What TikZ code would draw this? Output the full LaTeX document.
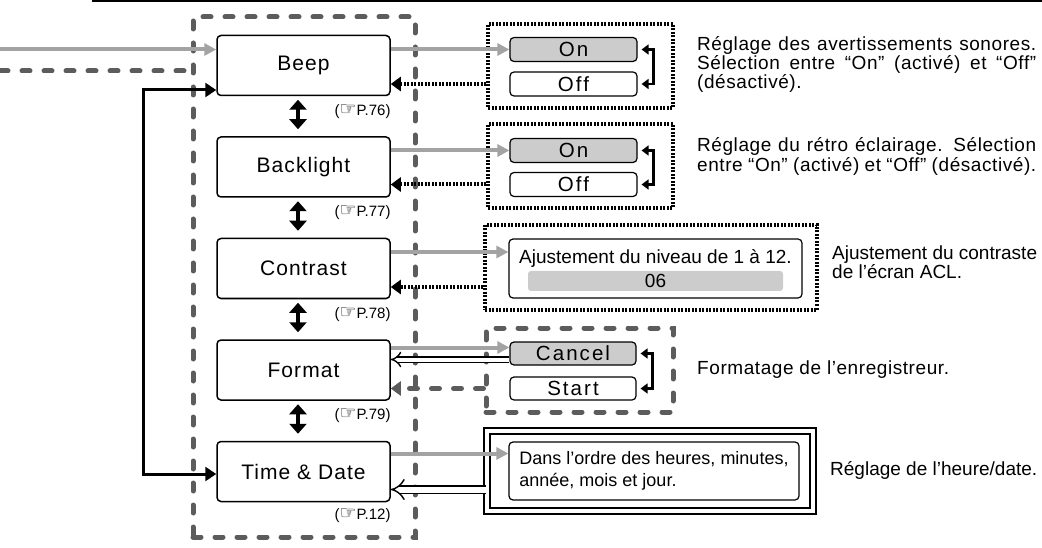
\documentclass[tikz,border=0pt]{standalone}
\usepackage{fontspec}
\setmainfont{Liberation Sans}
\newfontfamily\symfont{DejaVu Sans}
\newfontfamily\keyfont[LetterSpace=5]{Liberation Sans}
\newfontfamily\optfont[LetterSpace=10]{Liberation Sans}
\newfontfamily\widefont[LetterSpace=3]{Liberation Sans}
\usetikzlibrary{positioning,arrows.meta}
\hyphenpenalty=10000
\exhyphenpenalty=10000
\newcommand{\pref}[1]{({\symfont\fontsize{19}{19}\selectfont\char"261E}P.#1)}
\definecolor{lightline}{gray}{0.64}
\definecolor{darkline}{gray}{0.36}
\definecolor{barfill}{gray}{0.8}

\begin{document}
\begin{tikzpicture}[x=1pt,y=-1pt,node distance=101.5pt,on grid,
		menu/.style={rectangle,rounded corners=4pt,draw=black,line width=1.5pt,minimum width=173pt,minimum height=60pt,font=\fontsize{21}{24}\keyfont},
		choice/.style={rectangle,rounded corners=4pt,draw=black,line width=1.2pt,minimum width=127pt,minimum height=24pt,inner sep=0pt,font=\fontsize{20.5}{22}\optfont},
		chosen/.style={choice,fill=barfill},
		ref/.style={anchor=east,inner sep=0pt,font=\fontsize{15}{17}\selectfont},
		note/.style={anchor=north west,inner sep=0pt,font=\fontsize{19}{19}\selectfont},
		widenote/.style={note,font=\fontsize{19}{19}\widefont},
		ingo/.style={draw=lightline,line width=4pt,-{Triangle[length=12pt,width=12pt]}},
		dots/.style={draw=black,line width=4pt,dash pattern=on 2pt off 1.5pt},
		dashes/.style={draw=darkline,line width=5pt,line cap=round,dash pattern=on 8pt off 14pt},
		goback/.style={dots,-{Triangle[length=10pt,width=14pt]}},
		dashback/.style={dashes,-{Triangle[length=10pt,width=14pt]}},
		toggle/.style={line width=2.5pt,{Triangle[length=7pt,width=10pt]}-{Triangle[length=7pt,width=10pt]}},
		updown/.style={line width=3.5pt,{Triangle[length=10pt,width=17pt]}-{Triangle[length=10pt,width=17pt]}},
		jump/.style={line width=3pt,{Triangle[length=11pt,width=14pt]}-{Triangle[length=11pt,width=14pt]}},
		hollow/.style={draw=black,double=white,line width=1.4pt,double distance=4pt,-{Implies}}]
		\useasboundingbox (0,0) rectangle (1042,548);
		\draw[line width=2pt] (92,1) -- (1042,1);
		
		% menu column
		\node[dashes,minimum width=222pt,minimum height=520pt] (outer) at (304,277) {};
		\node[menu]  (beep)                        at (303.5,65.5) {Beep};
		\node[menu]  (light)    [below=of beep]     {Backlight};
		\node[menu]  (contrast) [below=of light]    {Contrast};
		\node[menu]  (format)   [below=of contrast] {Format};
		\node[menu]  (clock)    [below=of format]   {Time \& Date};
		
		\node[ref] (ref1) at ([yshift=-15pt]beep.south east)     {\pref{76}};
		\node[ref] (ref2) at ([yshift=-15pt]light.south east)    {\pref{77}};
		\node[ref] (ref3) at ([yshift=-15pt]contrast.south east) {\pref{78}};
		\node[ref] (ref4) at ([yshift=-15pt]format.south east)   {\pref{79}};
		\node[ref] (ref5) at ([yshift=-13pt]clock.south east)    {\pref{12}};
		
		\draw[updown] ([xshift=-5.5pt,yshift=-3.5pt]beep.south)     -- ([xshift=-5.5pt,yshift=7pt]light.north);
		\draw[updown] ([xshift=-5.5pt,yshift=-3.5pt]light.south)    -- ([xshift=-5.5pt,yshift=7pt]contrast.north);
		\draw[updown] ([xshift=-5.5pt,yshift=-3.5pt]contrast.south) -- ([xshift=-5.5pt,yshift=7pt]format.north);
		\draw[updown] ([xshift=-5.5pt,yshift=-3.5pt]format.south)   -- ([xshift=-5.5pt,yshift=7pt]clock.north);
		
		% coming in from the left
		\coordinate (feed) at (0,49.5);
		\coordinate (leave) at (0,71);
		\draw[ingo] (feed) -- (feed -| beep.west);
		\draw[dashes] (leave) -- (leave -| outer.west);
		\draw[jump] ([yshift=-24.5pt]beep.west) -- ++(-73pt,0) |- ([yshift=-2.5pt]clock.west);
		
		% Beep
		\node[dots,minimum width=185pt,minimum height=84pt] (box1) at (580.5,66) {};
		\node[chosen] (on1)  at (573.5,49.5) {On};
		\node[choice] (off1) at (573.5,84)   {Off};
		\draw[toggle] ([xshift=4pt]on1.east) -- ++(12pt,0) |- ([xshift=4pt]off1.east);
		\draw[ingo] (beep.east |- on1.west) -- (on1.west);
		\draw[goback] (box1.west |- off1.west) -- (beep.east |- off1.west);
		\node[widenote,text width=339pt,align=justify] (beepnote) at (697,36)
			{Réglage des avertissements sonores. Sélection entre “On” (activé) et “Off” (désactivé).};
		
		% Backlight
		\node[dots,minimum width=185pt,minimum height=84pt] (box2) at (580.5,166) {};
		\node[chosen] (on2)  at (573.5,150.5) {On};
		\node[choice] (off2) at (573.5,184.5) {Off};
		\draw[toggle] ([xshift=4pt]on2.east) -- ++(12pt,0) |- ([xshift=4pt]off2.east);
		\draw[ingo] (light.east |- on2.west) -- (on2.west);
		\draw[goback] (box2.west |- off2.west) -- (light.east |- off2.west);
		\node[widenote,align=left] (lightnote) at (697,137)
			{\makebox[339pt][s]{Réglage du rétro éclairage. Sélection}\\[1pt]\makebox[339pt][s]{entre “On” (activé) et “Off” (désactivé).}};
		
		% Contrast
		\node[dots,minimum width=332pt,minimum height=85pt] (box3) at (651,267.5) {};
		\node[rectangle,rounded corners=4pt,draw=black,line width=1.2pt,minimum width=293pt,minimum height=59pt] (slider) at (655.5,268.5) {};
		\node[font=\fontsize{19}{22}\selectfont,inner sep=0pt] (range) at (655.5,258) {Ajustement du niveau de 1 à 12.};
		\node[rectangle,rounded corners=3pt,fill=barfill,minimum width=255pt,minimum height=20pt,inner sep=0pt,font=\fontsize{19}{22}\selectfont] (level) at (655.5,281) {06};
		\draw[ingo] ([yshift=16.5pt]contrast.east) -- ([yshift=16.5pt]contrast.east -| slider.west);
		\draw[goback] ([yshift=-18.5pt]contrast.east -| box3.west) -- ([yshift=-18.5pt]contrast.east);
		\node[note,anchor=west,align=left] (contrastnote) at (832,262) {Ajustement du contraste\\de l’écran ACL.};
		
		% Format
		\node[dashes,minimum width=187pt,minimum height=84pt] (box4) at (579.5,370) {};
		\node[chosen,minimum width=126pt,minimum height=23pt] (cancel) at (573,353.5) {Cancel};
		\node[choice,minimum width=126pt,minimum height=23pt] (start)  at (573,388.5) {Start};
		\draw[toggle] ([xshift=4pt]cancel.east) -- ++(12pt,0) |- ([xshift=4pt]start.east);
		\draw[ingo] ([yshift=6pt]cancel.west -| format.east) -- ([yshift=6pt]cancel.west);
		\draw[hollow] ([yshift=-6pt]cancel.west) -- ([yshift=-6pt]cancel.west -| format.east);
		\draw[dashback] (box4.west |- start.west) -- (format.east |- start.west);
		\node[widenote,anchor=west] (formatnote) at (697,370) {Formatage de l’enregistreur.};
		
		% Time & Date
		\node[rectangle,draw=black,double=white,line width=1.8pt,double distance=3.5pt,minimum width=326pt,minimum height=80pt] (box5) at (650,471) {};
		\node[rectangle,rounded corners=4pt,draw=black,line width=1.2pt,minimum width=290pt,minimum height=58pt,align=left,font=\fontsize{18}{22}\selectfont] (order) at (654,471)
			{Dans l’ordre des heures, minutes,\\année, mois et jour.};
		\draw[ingo] ([yshift=18pt]clock.east) -- ([yshift=18pt]clock.east -| order.west);
		\draw[hollow,double distance=6pt] ([yshift=-18pt]clock.east -| box5.west) -- ([yshift=-18pt]clock.east);
		\node[note,anchor=west] (clocknote) at (830,470) {Réglage de l’heure/date.};
\end{tikzpicture}
\end{document}
